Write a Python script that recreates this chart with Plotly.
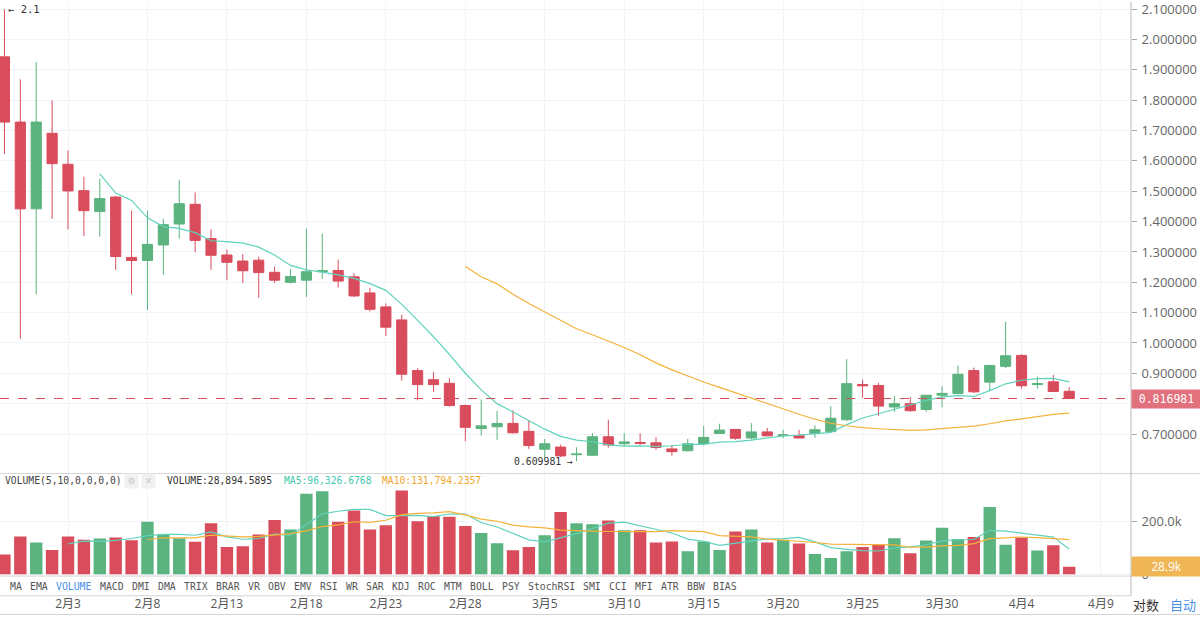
import plotly.graph_objects as go
import pandas as pd

# ---------------- data ----------------
dates = pd.date_range("2021-01-30", periods=68, freq="D")

open_ = [1.943, 1.728, 1.442, 1.691, 1.589, 1.502, 1.433, 1.481, 1.282, 1.272,
         1.323, 1.392, 1.457, 1.344, 1.290, 1.270, 1.273, 1.233, 1.200, 1.207,
         1.235, 1.239, 1.218, 1.165, 1.119, 1.076, 0.909, 0.879, 0.867, 0.794,
         0.718, 0.724, 0.735, 0.709, 0.650, 0.657, 0.632, 0.630, 0.691, 0.668,
         0.672, 0.671, 0.651, 0.645, 0.669, 0.702, 0.715, 0.687, 0.707, 0.695,
         0.695, 0.702, 0.708, 0.747, 0.863, 0.860, 0.789, 0.800, 0.781, 0.828,
         0.833, 0.909, 0.871, 0.923, 0.959, 0.863, 0.872, 0.841]
high = [2.100, 1.869, 1.926, 1.799, 1.634, 1.548, 1.541, 1.485, 1.436, 1.436,
        1.409, 1.538, 1.496, 1.375, 1.308, 1.293, 1.284, 1.252, 1.244, 1.377,
        1.361, 1.275, 1.230, 1.182, 1.130, 1.093, 0.917, 0.904, 0.884, 0.797,
        0.814, 0.776, 0.778, 0.746, 0.684, 0.665, 0.656, 0.703, 0.747, 0.703,
        0.702, 0.689, 0.664, 0.684, 0.727, 0.734, 0.716, 0.736, 0.720, 0.714,
        0.714, 0.729, 0.792, 0.947, 0.879, 0.868, 0.825, 0.822, 0.828, 0.857,
        0.926, 0.919, 0.926, 1.070, 0.963, 0.889, 0.895, 0.855]
low = [1.623, 1.014, 1.160, 1.409, 1.375, 1.353, 1.350, 1.241, 1.160, 1.109,
       1.225, 1.344, 1.299, 1.241, 1.207, 1.198, 1.149, 1.198, 1.196, 1.152,
       1.211, 1.183, 1.152, 1.104, 1.023, 0.876, 0.811, 0.838, 0.790, 0.676,
       0.695, 0.681, 0.702, 0.651, 0.621, 0.624, 0.609981, 0.630, 0.655, 0.659,
       0.664, 0.648, 0.629, 0.643, 0.662, 0.702, 0.681, 0.682, 0.693, 0.686,
       0.687, 0.687, 0.708, 0.743, 0.819, 0.760, 0.773, 0.773, 0.773, 0.788,
       0.833, 0.836, 0.842, 0.917, 0.850, 0.850, 0.840, 0.815]
close = [1.728, 1.442, 1.728, 1.591, 1.501, 1.436, 1.476, 1.285, 1.272, 1.325,
         1.390, 1.459, 1.338, 1.289, 1.266, 1.238, 1.232, 1.207, 1.219, 1.235,
         1.238, 1.204, 1.155, 1.111, 1.052, 0.897, 0.863, 0.863, 0.794, 0.722,
         0.727, 0.735, 0.704, 0.662, 0.668, 0.628, 0.634, 0.691, 0.664, 0.674,
         0.669, 0.656, 0.642, 0.668, 0.689, 0.713, 0.686, 0.707, 0.694, 0.697,
         0.687, 0.714, 0.752, 0.866, 0.859, 0.792, 0.800, 0.777, 0.828, 0.834,
         0.897, 0.839, 0.926, 0.958, 0.859, 0.866, 0.840, 0.816981]
volume_k = [75, 144, 121, 92, 144, 131, 136, 140, 129, 200,
            152, 137, 124, 194, 104, 107, 151, 206, 170, 306,
            316, 200, 242, 170, 186, 318, 202, 221, 219, 184,
            157, 118, 91, 104, 148, 237, 194, 190, 204, 167,
            167, 121, 125, 88, 125, 92, 163, 170, 121, 131,
            117, 77, 62, 88, 104, 112, 137, 80, 128, 177,
            134, 142, 255.3, 112, 140, 90, 110.7, 28.8946]

price_ticks = [0.7, 0.8, 0.9, 1.0, 1.1, 1.2, 1.3, 1.4, 1.5, 1.6, 1.7, 1.8, 1.9, 2.0, 2.1]
date_ticks = ["2021-02-03", "2021-02-08", "2021-02-13", "2021-02-18", "2021-02-23",
              "2021-02-28", "2021-03-05", "2021-03-10", "2021-03-15", "2021-03-20",
              "2021-03-25", "2021-03-30", "2021-04-04", "2021-04-09"]
date_labels = ["2月3", "2月8", "2月13", "2月18", "2月23", "2月28", "3月5", "3月10",
               "3月15", "3月20", "3月25", "3月30", "4月4", "4月9"]
tabs = ["MA", "EMA", "VOLUME", "MACD", "DMI", "DMA", "TRIX", "BRAR", "VR", "OBV", "EMV",
        "RSI", "WR", "SAR", "KDJ", "ROC", "MTM", "BOLL", "PSY", "StochRSI", "SMI", "CCI",
        "MFI", "ATR", "BBW", "BIAS"]
last_price = 0.816981
last_volume = 28894.5895

# ---------------- styles ----------------
RED = "#d94c5c"
GREEN = "#5bb37f"
TEAL = "#5fd3bb"
ORANGE = "#f5b23a"
GRID = "#f0f3f8"
SEP = "#d4d4d4"
MONO = "DejaVu Sans Mono"
SANS = "Open Sans, Noto Sans CJK SC, sans-serif"

W, H = 1200, 622
PLOT_R = 1131
def py(px):
    return 1 - px / H

volume = [v * 1000 for v in volume_k]
s_close = pd.Series(close)
s_vol = pd.Series(volume)
ma7 = s_close.rolling(7).mean()
ma30 = s_close.rolling(30).mean()
vma5 = s_vol.rolling(5).mean()
vma10 = s_vol.rolling(10).mean()
vol_colors = [GREEN if c >= o else RED for o, c in zip(open_, close)]

fig = go.Figure()
fig.add_trace(go.Candlestick(
    x=dates, open=open_, high=high, low=low, close=close,
    increasing=dict(line=dict(color=GREEN, width=1), fillcolor=GREEN),
    decreasing=dict(line=dict(color=RED, width=1), fillcolor=RED),
    xaxis="x", yaxis="y", showlegend=False, hoverinfo="skip"))
fig.add_trace(go.Scatter(x=dates, y=ma7, mode="lines", line=dict(color=TEAL, width=1.2),
                         xaxis="x", yaxis="y", showlegend=False, hoverinfo="skip"))
fig.add_trace(go.Scatter(x=dates, y=ma30, mode="lines", line=dict(color=ORANGE, width=1.2),
                         xaxis="x", yaxis="y", showlegend=False, hoverinfo="skip"))
fig.add_trace(go.Bar(x=dates, y=volume, marker=dict(color=vol_colors, line=dict(width=0)),
                     width=0.78 * 86400000, xaxis="x", yaxis="y2", showlegend=False,
                     hoverinfo="skip"))
fig.add_trace(go.Scatter(x=dates, y=vma5, mode="lines", line=dict(color=TEAL, width=1.2),
                         xaxis="x", yaxis="y2", showlegend=False, hoverinfo="skip"))
fig.add_trace(go.Scatter(x=dates, y=vma10, mode="lines", line=dict(color=ORANGE, width=1.2),
                         xaxis="x", yaxis="y2", showlegend=False, hoverinfo="skip"))

shapes = [
    dict(type="line", xref="paper", yref="y", x0=0, x1=1, y0=last_price, y1=last_price,
         line=dict(color=RED, width=1, dash="dash")),
    dict(type="line", xref="paper", yref="paper", x0=0, x1=W / PLOT_R, y0=py(478.5), y1=py(478.5),
         line=dict(color=SEP, width=1)),
    dict(type="line", xref="paper", yref="paper", x0=0, x1=1, y0=py(582.5), y1=py(582.5),
         line=dict(color=SEP, width=1)),
    dict(type="line", xref="paper", yref="paper", x0=0, x1=1, y0=py(602.5), y1=py(602.5),
         line=dict(color=SEP, width=1)),
    dict(type="line", xref="paper", yref="paper", x0=0, x1=W / PLOT_R, y0=py(621.5), y1=py(621.5),
         line=dict(color=SEP, width=1)),
    dict(type="line", xref="paper", yref="paper", x0=1, x1=1, y0=py(0), y1=py(602.5),
         line=dict(color="#b8b8b8", width=1)),
]

ann = []
ann.append(dict(x=dates[0], y=high[0], xref="x", yref="y", text="← 2.1", showarrow=False,
                xanchor="left", yanchor="middle", xshift=2,
                font=dict(family=MONO, size=10.5, color="#333")))
ann.append(dict(x=dates[36], y=low[36], xref="x", yref="y", text=f"{low[36]:.6f} →",
                showarrow=False, xanchor="right", yanchor="middle", xshift=-2,
                font=dict(family=MONO, size=9.8, color="#333")))
ann.append(dict(x=1, y=last_price, xref="paper", yref="y", text=f"{last_price:.6f}",
                showarrow=False, xanchor="left", yanchor="middle", width=69, height=18,
                bgcolor="#e0717d", borderpad=0, align="center",
                font=dict(family=MONO, size=11.5, color="white")))
ann.append(dict(x=1, y=last_volume, xref="paper", yref="y2", text=f"{last_volume/1000:.1f}k",
                showarrow=False, xanchor="left", yanchor="middle", width=69, height=19,
                bgcolor="#f0b656", borderpad=0, align="center",
                font=dict(family=SANS, size=12, color="white")))
# volume header
hy = py(486)
ann.append(dict(x=3 / PLOT_R, y=hy, xref="paper", yref="paper", text="VOLUME(5,10,0,0,0,0)",
                showarrow=False, xanchor="left", yanchor="middle",
                font=dict(family=MONO, size=9.7, color="#444")))
ann.append(dict(x=124 / PLOT_R, y=hy, xref="paper", yref="paper", text="⚙", showarrow=False,
                xanchor="left", yanchor="middle", width=11, height=12, bgcolor="#f1f1f1",
                font=dict(family="DejaVu Sans", size=9, color="#c8c8c8")))
ann.append(dict(x=141 / PLOT_R, y=hy, xref="paper", yref="paper", text="✕", showarrow=False,
                xanchor="left", yanchor="middle", width=11, height=12, bgcolor="#f1f1f1",
                font=dict(family="DejaVu Sans", size=9, color="#c8c8c8")))
ann.append(dict(x=165 / PLOT_R, y=hy, xref="paper", yref="paper",
                text=f"VOLUME:{last_volume:,.4f}", showarrow=False, xanchor="left",
                yanchor="middle", font=dict(family=MONO, size=9.7, color="#333")))
ann.append(dict(x=282 / PLOT_R, y=hy, xref="paper", yref="paper",
                text="MA5:96,326.6768", showarrow=False, xanchor="left",
                yanchor="middle", font=dict(family=MONO, size=9.7, color="#3fc9ad")))
ann.append(dict(x=380 / PLOT_R, y=hy, xref="paper", yref="paper",
                text="MA10:131,794.2357", showarrow=False, xanchor="left",
                yanchor="middle", font=dict(family=MONO, size=9.7, color="#f2a72c")))
# indicator tab row
tx = 8.0
for w in tabs:
    ann.append(dict(x=tx / PLOT_R, y=py(593), xref="paper", yref="paper", text=w,
                    showarrow=False, xanchor="left", yanchor="middle",
                    font=dict(family=MONO, size=9.8,
                              color="#4a8fe7" if w == "VOLUME" else "#555")))
    tx += len(w) * 5.9 + 8.3
# bottom right
ann.append(dict(x=1146 / PLOT_R, y=py(611), xref="paper", yref="paper", text="对数",
                showarrow=False, xanchor="center", yanchor="middle",
                font=dict(family="Noto Sans CJK SC", size=13, color="#333")))
ann.append(dict(x=1183 / PLOT_R, y=py(611), xref="paper", yref="paper", text="自动",
                showarrow=False, xanchor="center", yanchor="middle",
                font=dict(family="Noto Sans CJK SC", size=13, color="#4a8fe7")))

fig.update_layout(
    width=W, height=H, margin=dict(l=0, r=W - PLOT_R, t=0, b=0),
    paper_bgcolor="white", plot_bgcolor="white",
    boxgap=0.36, boxgroupgap=0,
    showlegend=False, hovermode=False,
    xaxis=dict(domain=[0, 1], type="date", anchor="y2",
               range=["2021-01-29 17:18", "2021-04-10 21:21"],
               tickvals=date_ticks, ticktext=date_labels, ticks="",
               tickfont=dict(family=SANS, size=12, color="#555"),
               ticklabelstandoff=19,
               showgrid=True, gridcolor=GRID, gridwidth=1, zeroline=False, showline=False,
               rangeslider=dict(visible=False), fixedrange=True),
    yaxis=dict(domain=[py(478), 1], range=[0.5713, 2.1237], side="right", anchor="x",
               tickvals=price_ticks, ticktext=[f"{v:.6f}" for v in price_ticks],
               ticks="outside", ticklen=5, tickcolor="#aaa", ticklabeloverflow="allow",
               ticklabelstandoff=2,
               tickfont=dict(family=SANS, size=13, color="#666"),
               showgrid=True, gridcolor=GRID, zeroline=False, showline=False, fixedrange=True),
    yaxis2=dict(domain=[py(582), py(479)], range=[-4870, 380870], side="right", anchor="x",
                tickvals=[0, 200000], ticktext=["0", "200.0k"],
                ticks="outside", ticklen=5, tickcolor="#aaa", ticklabeloverflow="allow",
                ticklabelstandoff=2,
                tickfont=dict(family=SANS, size=13, color="#666"),
                showgrid=True, gridcolor=GRID, zeroline=False, showline=False, fixedrange=True),
    shapes=shapes, annotations=ann,
)

fig.write_html("out.html")
